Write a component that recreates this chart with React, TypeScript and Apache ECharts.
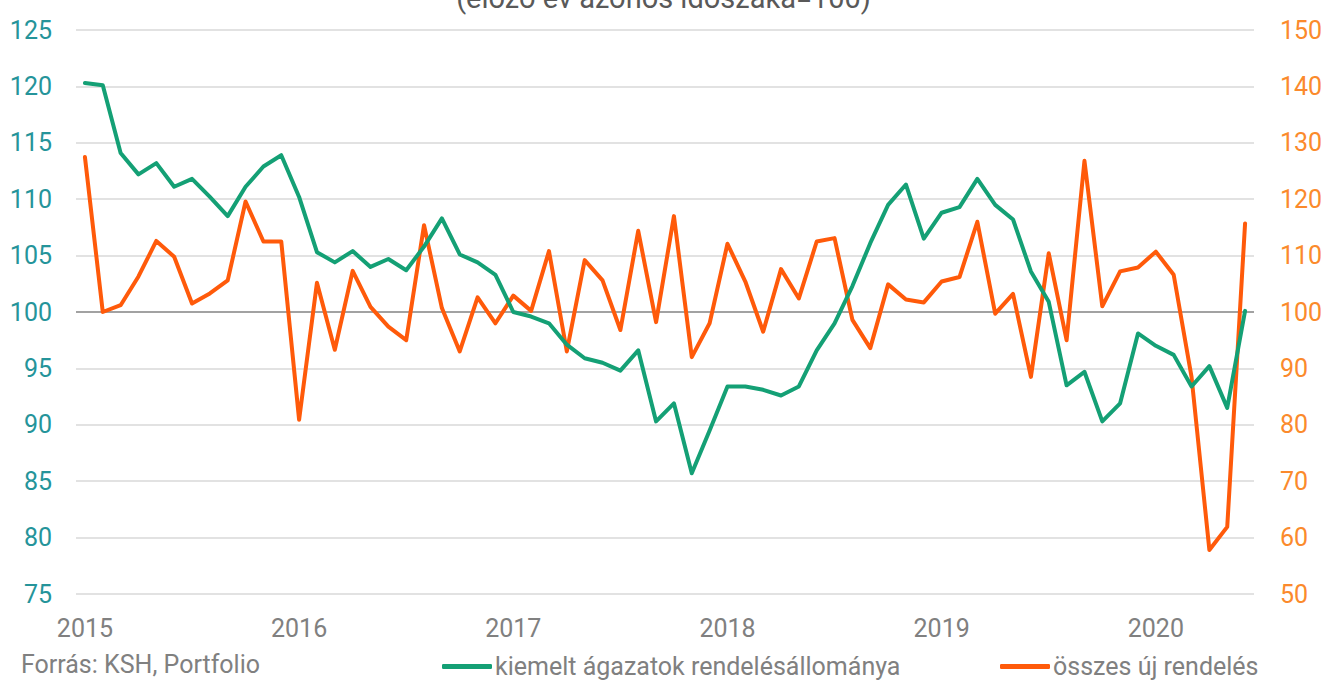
import React, { useEffect, useRef } from "react";
import * as echarts from "echarts";

const years = ["2015", "2016", "2017", "2018", "2019", "2020"];
const months = ["01", "02", "03", "04", "05", "06", "07", "08", "09", "10", "11", "12"];
const monthCount = 66; // Jan 2015 – Jun 2020

const greenName = "kiemelt ágazatok rendelésállománya";
const orangeName = "összes új rendelés";

const greenValues = [
  120.3, 120.1, 114.1, 112.2, 113.2, 111.1, 111.8, 110.2, 108.5, 111.1, 112.9, 113.9,
  110.2, 105.3, 104.4, 105.4, 104.0, 104.7, 103.7, 105.8, 108.3, 105.1, 104.4, 103.3,
  100.0, 99.6, 99.0, 97.1, 95.9, 95.5, 94.8, 96.6, 90.3, 91.9, 85.7, 89.5,
  93.4, 93.4, 93.1, 92.6, 93.4, 96.6, 99.0, 102.3, 106.1, 109.5, 111.3, 106.5,
  108.8, 109.3, 111.8, 109.5, 108.2, 103.6, 100.9, 93.5, 94.7, 90.3, 91.9, 98.1,
  97.0, 96.2, 93.4, 95.2, 91.5, 100.1,
];

const orangeValues = [
  127.5, 100.0, 101.2, 106.3, 112.6, 109.8, 101.5, 103.3, 105.6, 119.6, 112.5, 112.5,
  80.9, 105.2, 93.3, 107.3, 100.9, 97.4, 95.0, 115.4, 100.7, 93.0, 102.6, 98.0,
  102.9, 100.2, 110.8, 93.0, 109.2, 105.6, 96.8, 114.4, 98.2, 117.0, 92.0, 98.0,
  112.1, 105.4, 96.5, 107.6, 102.4, 112.5, 113.1, 98.6, 93.6, 104.9, 102.2, 101.7,
  105.4, 106.2, 116.0, 99.7, 103.2, 88.5, 110.4, 95.0, 126.8, 101.0, 107.2, 107.9,
  110.7, 106.6, 88.5, 57.8, 61.9, 115.7,
];

const categories: string[] = [];
years.forEach((y) => months.forEach((m) => categories.push(`${y}-${m}`)));
categories.length = monthCount;

const title = "(előző év azonos időszaka=100)";
const source = "Forrás: KSH, Portfolio";

const GREEN = "#14a075";
const ORANGE = "#ff5a0a";
const LEFT_LABEL = "#25949a";
const RIGHT_LABEL = "#fb8a2c";
const GRAY = "#808080";
const FONT = "Roboto";

export default function App() {
  const ref = useRef<HTMLDivElement>(null);
  useEffect(() => {
    if (!ref.current) return;
    const chart = echarts.init(ref.current, undefined, { renderer: "svg" });
    chart.setOption({
      animation: false,
      backgroundColor: "#ffffff",
      textStyle: { fontFamily: FONT },
      grid: { left: 76, right: 73, top: 30, bottom: 86, containLabel: false },
      legend: [
        {
          left: 437,
          top: 649,
          data: [{ name: greenName, icon: "roundRect" }],
          itemWidth: 50,
          itemHeight: 5,
          itemGap: 0,
          textStyle: { color: GRAY, fontSize: 25, fontFamily: FONT, padding: [0, 0, 0, -2] },
          selectedMode: false,
        },
        {
          left: 995,
          top: 649,
          data: [{ name: orangeName, icon: "roundRect" }],
          itemWidth: 50,
          itemHeight: 5,
          itemGap: 0,
          textStyle: { color: GRAY, fontSize: 25, fontFamily: FONT, padding: [0, 0, 0, -2] },
          selectedMode: false,
        },
      ],
      graphic: [
        {
          type: "text",
          left: "center",
          top: -17,
          style: { text: title, fill: "#595959", fontSize: 29, fontFamily: FONT },
        },
        {
          type: "text",
          left: 21,
          top: 652,
          style: { text: source, fill: GRAY, fontSize: 25, fontFamily: FONT },
        },
      ],
      xAxis: {
        type: "category",
        data: categories,
        boundaryGap: true,
        axisLine: { show: false },
        axisTick: { show: false },
        axisLabel: {
          interval: (i: number) => i % 12 === 0,
          formatter: (v: string) => v.slice(0, 4),
          color: GRAY,
          fontSize: 25,
          fontFamily: FONT,
          margin: 22,
        },
        splitLine: { show: false },
      },
      yAxis: [
        {
          type: "value",
          min: 75,
          max: 125,
          interval: 5,
          position: "left",
          axisLine: { show: false },
          axisTick: { show: false },
          axisLabel: { color: LEFT_LABEL, fontSize: 25, fontFamily: FONT, margin: 24 },
          splitLine: { lineStyle: { color: "#d9d9d9", width: 1.5 } },
        },
        {
          type: "value",
          min: 50,
          max: 150,
          interval: 10,
          position: "right",
          axisLine: { show: false },
          axisTick: { show: false },
          axisLabel: { color: RIGHT_LABEL, fontSize: 25, fontFamily: FONT, margin: 26 },
          splitLine: { show: false },
        },
      ],
      series: [
        {
          name: greenName,
          type: "line",
          yAxisIndex: 0,
          data: greenValues,
          showSymbol: false,
          symbol: "none",
          color: GREEN,
          lineStyle: { color: GREEN, width: 4, join: "round", cap: "round" },
          z: 3,
          markLine: {
            silent: true,
            symbol: "none",
            label: { show: false },
            lineStyle: { color: "#8c8c8c", width: 1.5, type: "solid" },
            data: [{ yAxis: 100 }],
            z: 1,
          },
        },
        {
          name: orangeName,
          type: "line",
          yAxisIndex: 1,
          data: orangeValues,
          showSymbol: false,
          symbol: "none",
          color: ORANGE,
          lineStyle: { color: ORANGE, width: 4, join: "round", cap: "round" },
          z: 2,
        },
      ],
    });
    return () => chart.dispose();
  }, []);
  return <div ref={ref} style={{ width: 1327, height: 680, position: "absolute", left: 0, top: 0 }} />;
}
